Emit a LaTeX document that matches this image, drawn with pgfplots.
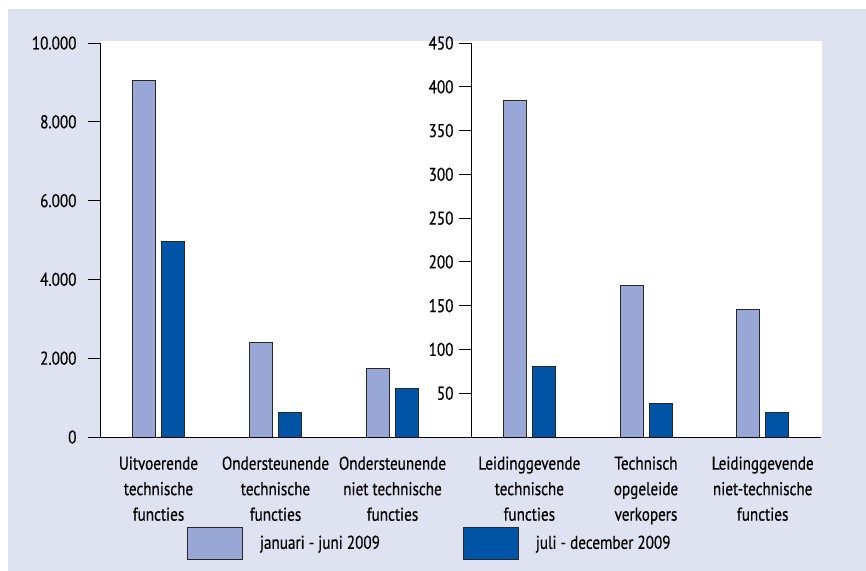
\documentclass[border=0pt]{standalone}
\usepackage{pgfplots}
\pgfplotsset{compat=1.18}
\usepackage{fontspec}
\setmainfont{PT Sans}[FakeStretch=0.82, FakeBold=0.5]

\definecolor{bgpanel}{RGB}{223,226,241}
\definecolor{lightbar}{RGB}{152,167,213}
\definecolor{darkbar}{RGB}{0,84,165}
\definecolor{barline}{RGB}{40,40,40}

\newcommand\lblfont{\fontsize{18.5bp}{25.5bp}\selectfont}

\pgfplotsset{
  panel/.style={
    scale only axis,
    ybar=6bp, bar width=23bp,
    axis lines*=left,
    axis line style={line width=0.9bp, black},
    tick style={line width=0.9bp, black},
    tick align=outside,
    major tick length=12bp,
    ymin=0,
    xtick={0,1,2},
    x tick style={draw=none},
    xticklabel style={font=\lblfont, align=center, yshift=-4bp},
    yticklabel style={font=\lblfont, xshift=-2bp},
    extra x tick style={major tick length=9bp, tick style={draw=black, line width=0.9bp}, xticklabel=\empty},
    /pgf/number format/1000 sep={.},
    /pgf/number format/assume math mode=true,
  },
  bars/.style={draw=barline, line width=0.9bp},
}

\begin{document}
\begin{tikzpicture}
  \fill[white] (0bp,0bp) rectangle (866bp,571bp);
  \fill[bgpanel] (8bp,0bp) rectangle (866bp,562bp);
  \fill[white] (100bp,134bp) rectangle (822bp,530bp);

  % first panel: large occupational groups
  \begin{axis}[panel,
    at={(100bp,134bp)}, anchor=south west,
    width=371bp, height=394bp,
    xmin=-0.5, xmax=2.671,
    ymax=10000, ytick={0,2000,...,10000},
    scaled y ticks=false,
    yticklabel style={xshift=-6bp},
    extra x ticks={-0.5,0.5,1.5},
    xticklabels={Uitvoerende\\technische\\functies,
                 Ondersteunende\\technische\\functies,
                 Ondersteunende\\niet technische\\functies},
    legend style={at={(0.2345,-0.269)}, anchor=west, draw=none, fill=none,
      inner sep=0pt, outer sep=0pt, legend columns=2, font=\lblfont,
      /tikz/every odd column/.append style={column sep=15bp},
      /tikz/every even column/.append style={column sep=81bp}},
  ]
    \addplot[bars, fill=lightbar, bar shift=-14.5bp, forget plot] coordinates {(0,9050) (1,2400) (2,1740)};
    \addplot[bars, fill=darkbar, bar shift=14.5bp, forget plot] coordinates {(0,4960) (1,620) (2,1220)};
    \addlegendimage{legend image code/.code={\draw[draw=barline, line width=0.9bp, fill=lightbar] (0bp,-16bp) rectangle (55bp,16bp);}}
    \addlegendentry{januari - juni 2009}
    \addlegendimage{legend image code/.code={\draw[draw=barline, line width=0.9bp, fill=darkbar] (0bp,-16bp) rectangle (55bp,16bp);}}
    \addlegendentry{juli - december 2009}
  \end{axis}

  % second panel: small occupational groups
  \begin{axis}[panel,
    at={(471bp,134bp)}, anchor=south west,
    width=350bp, height=394bp,
    xmin=-0.5, xmax=2.5,
    ymax=450, ytick={50,100,...,450},
    extra x ticks={-0.5,0.5,1.5,2.5},
    xticklabels={Leidinggevende\\technische\\functies,
                 Technisch\\opgeleide\\verkopers,
                 Leidinggevende\\niet-technische\\functies},
  ]
    \addplot[bars, fill=lightbar, bar shift=-14.5bp] coordinates {(0,384) (1,173) (2,146)};
    \addplot[bars, fill=darkbar, bar shift=14.5bp] coordinates {(0,81) (1,38.5) (2,27.5)};
  \end{axis}
\end{tikzpicture}
\end{document}
